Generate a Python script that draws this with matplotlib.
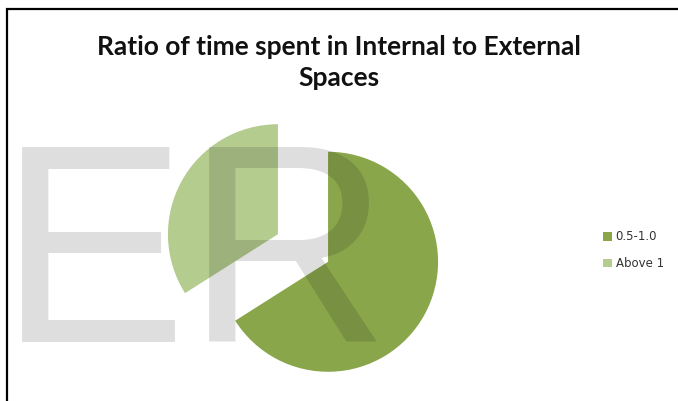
import matplotlib.pyplot as plt
from matplotlib.patches import Rectangle

title = 'Ratio of time spent in Internal to External\nSpaces'
labels = ['0.5-1.0', 'Above 1']
values = [66, 34]
colors = ['#8aa64b', '#b5cc8f']

fig = plt.figure(figsize=(6.78, 4.01), dpi=100)
ax = fig.add_axes([0, 0, 1, 1])

# explode is in data units here (pixels), since radius is in pixels too
wedges, _ = ax.pie(values, colors=colors, startangle=90, counterclock=False,
                   explode=[28.6, 28.6], center=(303, 153), radius=110,
                   wedgeprops=dict(linewidth=0))
ax.set_xlim(0, 678)
ax.set_ylim(0, 401)
ax.set_aspect('equal')
ax.axis('off')

# watermark on top of the pie
fig.text(-1 / 678, 59 / 401, 'ER', fontsize=203, family='Liberation Sans',
         color='black', alpha=0.13, ha='left', va='baseline', zorder=10)

fig.text(0.5, 0.845, title, fontsize=19, fontweight='bold', family='Lato',
         ha='center', va='center', linespacing=1.35, color='#111111')

fig.legend(wedges, labels, loc='center left', bbox_to_anchor=(0.874, 0.376),
           frameon=False, fontsize=8.5, handlelength=0.75, handleheight=0.75,
           handletextpad=0.3, labelspacing=1.15, labelcolor='#333333')

# chart border (only top and left visible)
fig.patches.append(Rectangle((7 / 678, -0.1), 1.2, (401 - 9) / 401 + 0.1,
                             transform=fig.transFigure, fill=False,
                             edgecolor='black', linewidth=1.6))

plt.savefig('out.png', dpi=100)
